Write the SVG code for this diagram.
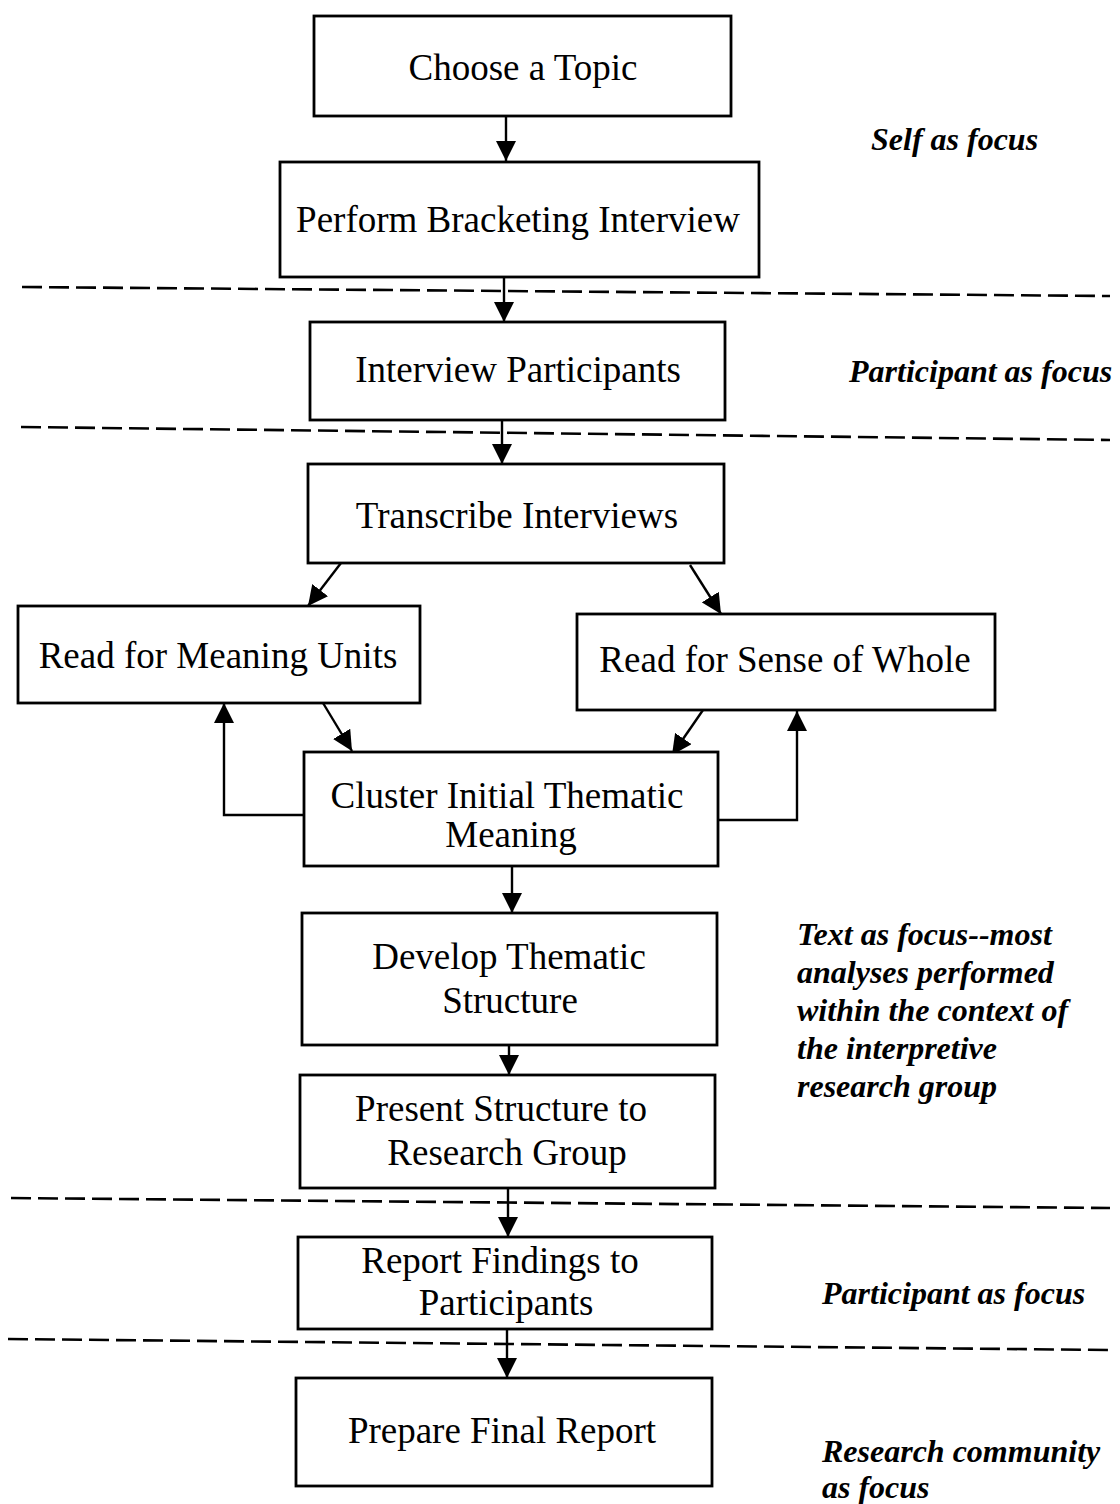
<svg xmlns="http://www.w3.org/2000/svg" width="1120" height="1504" viewBox="0 0 1120 1504">
<defs>
<marker id="ah" markerUnits="userSpaceOnUse" markerWidth="20" markerHeight="20" refX="20" refY="10" orient="auto">
<path d="M0,0 L20,10 L0,20 z" fill="#000"/>
</marker>
<style>
.box{fill:#fff;stroke:#000;stroke-width:2.8}
.lbl{font-family:"Liberation Serif","Times New Roman",serif;font-size:37px;fill:#000;text-anchor:middle}
.side{font-family:"Liberation Serif","Times New Roman",serif;font-size:32px;font-weight:bold;font-style:italic;fill:#000}
.conn{fill:none;stroke:#000;stroke-width:2.4;marker-end:url(#ah)}
.dash{fill:none;stroke:#000;stroke-width:2.6;stroke-dasharray:20 7}
</style>
</defs>
<rect width="1120" height="1504" fill="#fff"/>
<g id="separators">
<line class="dash" x1="22" y1="287" x2="1110" y2="296"/>
<line class="dash" x1="21" y1="427" x2="1110" y2="440"/>
<line class="dash" x1="11" y1="1198" x2="1110" y2="1208"/>
<line class="dash" x1="8" y1="1339" x2="1110" y2="1350"/>
</g>
<g id="connectors">
<line class="conn" x1="506" y1="116" x2="506" y2="161"/>
<line class="conn" x1="504" y1="277" x2="504" y2="322"/>
<line class="conn" x1="502" y1="420" x2="502" y2="464"/>
<line class="conn" x1="341" y1="563" x2="308" y2="606"/>
<line class="conn" x1="690" y1="565" x2="721" y2="614"/>
<line class="conn" x1="323" y1="703" x2="352" y2="751"/>
<line class="conn" x1="703" y1="710" x2="672" y2="755"/>
<polyline class="conn" points="304,815 224,815 224,703"/>
<polyline class="conn" points="718,820 797,820 797,711"/>
<line class="conn" x1="512" y1="866" x2="512" y2="913"/>
<line class="conn" x1="509" y1="1045" x2="509" y2="1075"/>
<line class="conn" x1="508" y1="1188" x2="508" y2="1237"/>
<line class="conn" x1="507" y1="1329" x2="507" y2="1378"/>
</g>
<g id="n1"><rect class="box" x="314" y="16" width="417" height="100"/><text class="lbl" x="523" y="80">Choose a Topic</text></g>
<g id="n2"><rect class="box" x="280" y="162" width="479" height="115"/><text class="lbl" x="518" y="232">Perform Bracketing Interview</text></g>
<g id="n3"><rect class="box" x="310" y="322" width="415" height="98"/><text class="lbl" x="518" y="382">Interview Participants</text></g>
<g id="n4"><rect class="box" x="308" y="464" width="416" height="99"/><text class="lbl" x="517" y="528">Transcribe Interviews</text></g>
<g id="n5"><rect class="box" x="18" y="606" width="402" height="97"/><text class="lbl" x="218" y="668">Read for Meaning Units</text></g>
<g id="n6"><rect class="box" x="577" y="614" width="418" height="96"/><text class="lbl" x="785" y="672">Read for Sense of Whole</text></g>
<g id="n7"><rect class="box" x="304" y="752" width="414" height="114"/><text class="lbl" x="507" y="808">Cluster Initial Thematic</text><text class="lbl" x="511" y="847">Meaning</text></g>
<g id="n8"><rect class="box" x="302" y="913" width="415" height="132"/><text class="lbl" x="509" y="969">Develop Thematic</text><text class="lbl" x="510" y="1013">Structure</text></g>
<g id="n9"><rect class="box" x="300" y="1075" width="415" height="113"/><text class="lbl" x="501" y="1121">Present Structure to</text><text class="lbl" x="507" y="1165">Research Group</text></g>
<g id="n10"><rect class="box" x="298" y="1237" width="414" height="92"/><text class="lbl" x="500" y="1273">Report Findings to</text><text class="lbl" x="506" y="1315">Participants</text></g>
<g id="n11"><rect class="box" x="296" y="1378" width="416" height="108"/><text class="lbl" x="502" y="1443">Prepare Final Report</text></g>
<g id="side-labels">
<text class="side" x="871" y="150">Self as focus</text>
<text class="side" x="849" y="382">Participant as focus</text>
<text class="side" x="797" y="945">Text as focus--most</text>
<text class="side" x="797" y="983">analyses performed</text>
<text class="side" x="797" y="1021">within the context of</text>
<text class="side" x="797" y="1059">the interpretive</text>
<text class="side" x="797" y="1097">research group</text>
<text class="side" x="822" y="1304">Participant as focus</text>
<text class="side" x="822" y="1462">Research community</text>
<text class="side" x="822" y="1498">as focus</text>
</g>
</svg>
